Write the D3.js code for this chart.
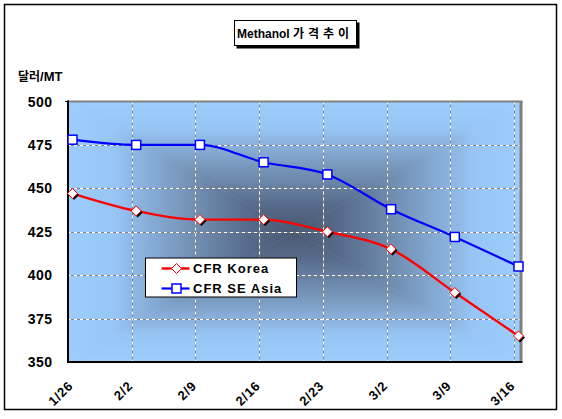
<!DOCTYPE html>
<html>
<head>
<meta charset="utf-8">
<script src="https://cdn.jsdelivr.net/npm/d3@7"></script>
<style>
  body { margin: 0; background: #fff; }
  text { font-family: Arial, "Liberation Sans", sans-serif; font-weight: bold; }
  .kr { font-family: "Noto Sans CJK KR", sans-serif; }
</style>
</head>
<body>
<svg id="chart"></svg>
<script>
// data
const categories = ['1/26', '2/2', '2/9', '2/16', '2/23', '3/2', '3/9', '3/16'];
const korea = [447, 437, 432, 432, 425, 415, 390, 365];
const seAsia = [478, 475, 475, 465, 458, 438, 422, 405];
const yTicks = [350, 375, 400, 425, 450, 475, 500];
const seriesNames = ['CFR Korea', 'CFR SE Asia'];

const width = 562, height = 419;
const svg = d3.select('#chart').attr('width', width).attr('height', height);

// plot area
const pLeft = 68, pRight = 521, pTop = 101.5, pBottom = 362;
const cx = (pLeft + pRight) / 2, cy = (pTop + pBottom) / 2;

const xEdge = d3.scaleLinear().domain([0, categories.length - 1]).range([68, 514]);
const x = i => xEdge(i) + 4.5;
const y = d3.scaleLinear().domain([350, 500]).range([pBottom, pTop]);

// outer frame
svg.append('rect')
    .attr('x', 4.5).attr('y', 4.5)
    .attr('width', 552).attr('height', 405)
    .attr('fill', '#fff')
    .style('stroke', '#000')
    .style('stroke-width', '1.5px');

// "from center" rectangular gradient: four triangles
const defs = svg.append('defs');
function grad(id, x1, y1, x2, y2) {
    const g = defs.append('linearGradient')
        .attr('id', id)
        .attr('gradientUnits', 'userSpaceOnUse')
        .attr('x1', x1).attr('y1', y1).attr('x2', x2).attr('y2', y2);
    [[0, '#9ccdfd'], [0.2, '#97c6f6'], [0.5, '#7897bc'], [0.8, '#566b89'], [1, '#4a5871']].forEach(s => {
        g.append('stop').attr('offset', s[0]).attr('stop-color', s[1]);
    });
}
grad('gTop', 0, pTop, 0, cy);
grad('gBottom', 0, pBottom, 0, cy);
grad('gLeft', pLeft, 0, cx, 0);
grad('gRight', pRight, 0, cx, 0);

const bg = svg.append('g');
const tri = (pts, id) => bg.append('path')
    .attr('d', 'M' + pts.map(p => p.join(',')).join('L') + 'Z')
    .attr('fill', `url(#${id})`)
    .style('stroke', `url(#${id})`)
    .style('stroke-width', '0.6px');
tri([[pLeft, pTop], [pRight, pTop], [cx, cy]], 'gTop');
tri([[pLeft, pBottom], [pRight, pBottom], [cx, cy]], 'gBottom');
tri([[pLeft, pTop], [pLeft, pBottom], [cx, cy]], 'gLeft');
tri([[pRight, pTop], [pRight, pBottom], [cx, cy]], 'gRight');

// gridlines
const grid = svg.append('g');
yTicks.filter(t => t > 350 && t < 500).forEach(t => {
    const gy = Math.round(y(t)) + 0.5;
    grid.append('line')
        .attr('x1', pLeft).attr('x2', pRight)
        .attr('y1', gy).attr('y2', gy)
        .style('stroke', '#808080');
    grid.append('line')
        .attr('x1', pLeft).attr('x2', pRight)
        .attr('y1', gy).attr('y2', gy)
        .style('stroke', '#fff')
        .style('stroke-dasharray', '3,3');
});
categories.slice(1).forEach((c, i) => {
    const gx = Math.round(xEdge(i + 1)) + 0.5;
    grid.append('line')
        .attr('x1', gx).attr('x2', gx)
        .attr('y1', pTop).attr('y2', pBottom)
        .style('stroke', '#808080');
    grid.append('line')
        .attr('x1', gx).attr('x2', gx)
        .attr('y1', pTop).attr('y2', pBottom)
        .style('stroke', '#fff')
        .style('stroke-dasharray', '3,3');
});

// plot border: gray top/right, black axes
svg.append('line')
    .attr('x1', pLeft).attr('x2', pRight + 1.5)
    .attr('y1', pTop).attr('y2', pTop)
    .style('stroke', '#808080').style('stroke-width', '2px');
svg.append('line')
    .attr('x1', pRight).attr('x2', pRight)
    .attr('y1', pTop).attr('y2', pBottom)
    .style('stroke', '#808080').style('stroke-width', '3px');
svg.append('line')
    .attr('x1', pLeft).attr('x2', pLeft)
    .attr('y1', pTop - 1).attr('y2', pBottom + 1)
    .style('stroke', '#000').style('stroke-width', '2px');
svg.append('line')
    .attr('x1', pLeft - 1).attr('x2', pRight + 1.5)
    .attr('y1', pBottom).attr('y2', pBottom)
    .style('stroke', '#000').style('stroke-width', '2px');
svg.append('line')
    .attr('x1', pLeft - 3).attr('x2', pLeft)
    .attr('y1', pTop).attr('y2', pTop)
    .style('stroke', '#000').style('stroke-width', '1px');

// axes labels
svg.append('g').selectAll('text')
    .data(yTicks)
    .join('text')
    .attr('x', 52.5)
    .attr('y', d => y(d))
    .attr('dy', '0.36em')
    .attr('text-anchor', 'end')
    .attr('font-size', '14px')
    .style('letter-spacing', '0.5px')
    .text(d => d);

svg.append('g').selectAll('text')
    .data(categories)
    .join('text')
    .attr('transform', (d, i) => `translate(${x(i) - (i === 0 ? 5 : 9)},${380}) rotate(-45)`)
    .attr('text-anchor', 'end')
    .attr('dy', '0.7em')
    .attr('font-size', '13px')
    .style('letter-spacing', '0.8px')
    .text(d => d);

// lines
const line = d3.line()
    .x((d, i) => x(i))
    .y(d => y(d))
    .curve(d3.curveMonotoneX);

svg.append('path')
    .datum(seAsia)
    .attr('d', line)
    .attr('fill', 'none')
    .style('stroke', '#0000ff')
    .style('stroke-width', '2.2px');

svg.append('path')
    .datum(korea)
    .attr('d', line)
    .attr('fill', 'none')
    .style('stroke', '#ff0000')
    .style('stroke-width', '2.4px');

const diamond = (px, py, r) => `M${px},${py - r}L${px + r},${py}L${px},${py + r}L${px - r},${py}Z`;

// markers
const mk = svg.append('g');
korea.forEach((v, i) => {
    mk.append('path')
        .attr('d', diamond(x(i) + 1.5, y(v) + 1.5, 5))
        .attr('fill', '#000');
    mk.append('path')
        .attr('d', diamond(x(i), y(v), 5))
        .attr('fill', '#fff')
        .style('stroke', '#ff0000')
        .style('stroke-width', '1px');
});
seAsia.forEach((v, i) => {
    mk.append('rect')
        .attr('x', x(i) - 4.5).attr('y', y(v) - 4.5)
        .attr('width', 9).attr('height', 9)
        .attr('fill', '#fff')
        .style('stroke', '#0000ff')
        .style('stroke-width', '1.5px');
});

// legend
const lg = svg.append('g').attr('transform', 'translate(145.5,258)');
lg.append('rect')
    .attr('width', 151).attr('height', 39)
    .attr('fill', '#fff')
    .style('stroke', '#000')
    .style('stroke-width', '1px');
const itemY = [10.5, 30.5];
lg.append('line')
    .attr('x1', 16).attr('x2', 44).attr('y1', itemY[0]).attr('y2', itemY[0])
    .style('stroke', '#ff0000').style('stroke-width', '2.4px');
lg.append('path')
    .attr('d', diamond(31, itemY[0], 5))
    .attr('fill', '#fff')
    .style('stroke', '#ff0000');
lg.append('line')
    .attr('x1', 16).attr('x2', 44).attr('y1', itemY[1]).attr('y2', itemY[1])
    .style('stroke', '#0000ff').style('stroke-width', '2.2px');
lg.append('rect')
    .attr('x', 26.5).attr('y', itemY[1] - 4.5)
    .attr('width', 9).attr('height', 9)
    .attr('fill', '#fff')
    .style('stroke', '#0000ff')
    .style('stroke-width', '1.5px');
lg.selectAll('text.item')
    .data(seriesNames)
    .join('text')
    .attr('class', 'item')
    .attr('x', 47.5)
    .attr('y', (d, i) => itemY[i])
    .attr('dy', '0.36em')
    .attr('font-size', '13px')
    .style('letter-spacing', '1px')
    .text(d => d);

// title box
svg.append('rect')
    .attr('x', 236.5).attr('y', 22.5)
    .attr('width', 123).attr('height', 26)
    .attr('fill', '#000');
svg.append('rect')
    .attr('x', 234.5).attr('y', 20.5)
    .attr('width', 122).attr('height', 25)
    .attr('fill', '#fff')
    .style('stroke', '#000')
    .style('stroke-width', '1px');
const title = svg.append('text')
    .attr('x', 237)
    .attr('y', 33.5)
    .attr('dy', '0.36em')
    .attr('font-size', '12px');
title.append('tspan').text('Methanol ');
title.append('tspan')
    .attr('class', 'kr')
    .style('letter-spacing', '4px')
    .text('가격추이');

// y unit label
const yl = svg.append('text')
    .attr('x', 18)
    .attr('y', 76)
    .attr('dy', '0.36em')
    .attr('font-size', '13px');
yl.append('tspan').attr('class', 'kr').attr('font-size', '12px').text('달러');
yl.append('tspan').text('/MT');
</script>
</body>
</html>
